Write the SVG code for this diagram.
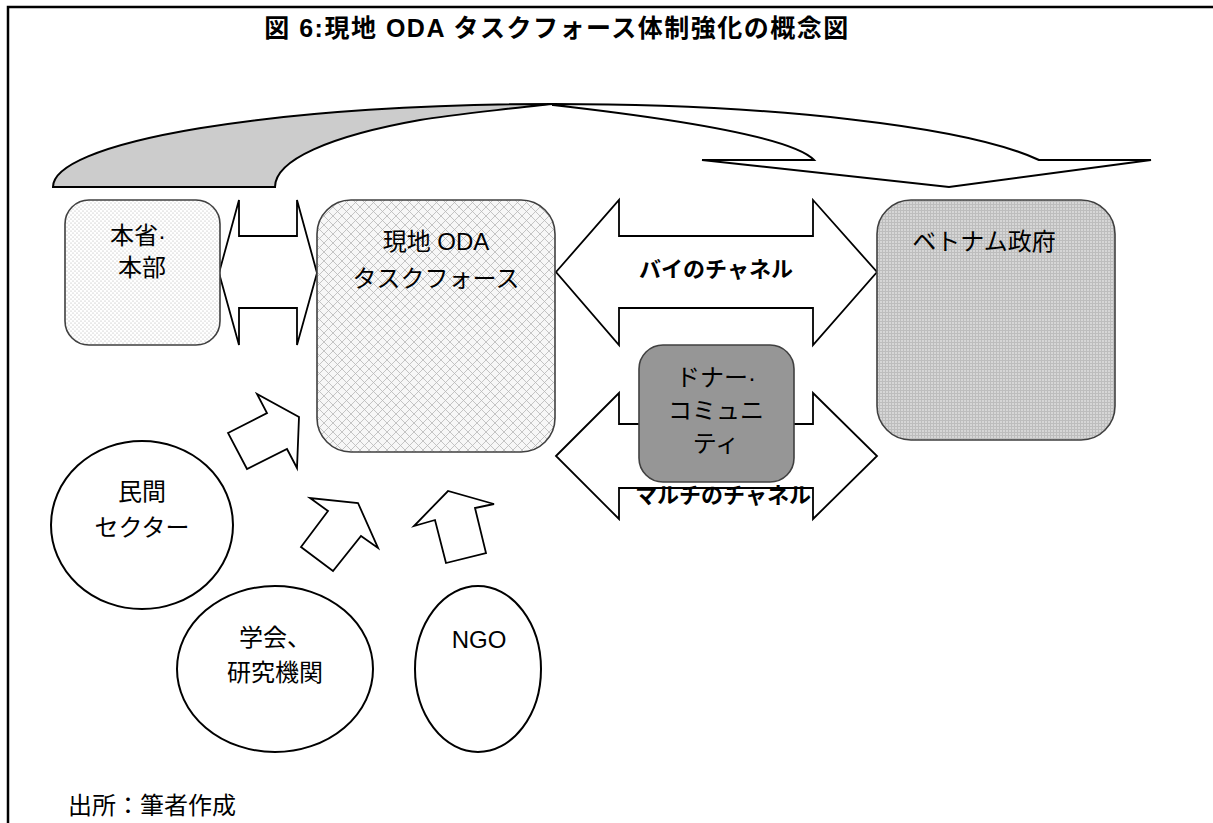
<svg xmlns="http://www.w3.org/2000/svg" width="1213" height="823" viewBox="0 0 1213 823">
<style>
.t{font-family:"Liberation Sans","Noto Sans CJK JP",sans-serif;font-size:24px;fill:#000;text-anchor:middle}
.b{font-family:"Liberation Sans","Noto Sans CJK JP",sans-serif;font-size:22px;font-weight:bold;fill:#000;text-anchor:middle}
.box{stroke:#404040;stroke-width:1.6}
.ell{fill:#fff;stroke:#000;stroke-width:2}
.arr{fill:#fff;stroke:#000;stroke-width:1.8;stroke-linejoin:miter}
</style>
<defs>
<pattern id="dots" width="4" height="4" patternUnits="userSpaceOnUse">
<rect width="4" height="4" fill="#fff"/>
<circle cx="1" cy="1" r="0.55" fill="#a8a8a8"/>
<circle cx="3" cy="3" r="0.55" fill="#a8a8a8"/>
</pattern>
<pattern id="hatch" width="9" height="9" patternUnits="userSpaceOnUse">
<rect width="9" height="9" fill="#f7f7f7"/>
<path d="M0,0 L9,9 M9,0 L0,9" stroke="#b8b8b8" stroke-width="0.8"/>
</pattern>
<pattern id="grid" width="3" height="3" patternUnits="userSpaceOnUse">
<rect width="3" height="3" fill="#d6d6d6"/>
<path d="M0,0.5 H3 M0.5,0 V3" stroke="#bdbdbd" stroke-width="1"/>
</pattern>
</defs>
<rect width="1213" height="823" fill="#fff"/>
<path d="M8,823 V7 H1213" fill="none" stroke="#000" stroke-width="2.5"/>
<text x="557" y="37" class="b" style="font-size:25px;letter-spacing:1.5px">図 6:現地 ODA タスクフォース体制強化の概念図</text>

<g id="connectors">
<path d="M53,187 A500,83 0 0 1 553,104 C 550,104 450,115 420,120 C 330,136 275,160 275,187 Z" fill="#cccccc" stroke="#000" stroke-width="2"/>
<path d="M553,104 A514,83 0 0 1 1039,160 L1151,160 L949,187 L702,160 L814,160 C790,135 650,116 553,105 Z" fill="#fff" stroke="#000" stroke-width="2"/>
<polygon class="arr" points="219,273 239,200 239,236 297,236 297,200 317,273 297,345 297,308 239,308 239,345"/>
<polygon class="arr" points="556,272 619,200 619,236 813,236 813,200 877,272 813,345 813,308 619,308 619,345"/>
<polygon class="arr" points="556,456 619,393 619,424 813,424 813,393 877,456 813,519 813,488 619,488 619,519"/>
<polygon class="arr" points="228,433 267,413 257,394 299,417 297,468 287,449 247,469"/>
<polygon class="arr" points="301,547 328,511 310,498 358,503 378,548 361,536 333,571"/>
<polygon class="arr" points="446,563 435,520 414,526 448,491 494,504 475,508 486,553"/>
<text x="716" y="277" class="b">バイのチャネル</text>
</g>

<g id="honsho">
<rect class="box" x="65" y="200" width="155" height="145" rx="24" fill="url(#dots)"/>
<text x="138" y="244" class="t">本省·</text>
<text x="142" y="276" class="t">本部</text>
</g>
<g id="taskforce">
<rect class="box" x="317" y="200" width="238" height="252" rx="34" fill="url(#hatch)"/>
<text x="436" y="250" class="t">現地 ODA</text>
<text x="436" y="287" class="t">タスクフォース</text>
</g>
<g id="vietnam">
<rect class="box" x="877" y="200" width="238" height="240" rx="34" fill="url(#grid)"/>
<text x="984" y="250" class="t">ベトナム政府</text>
</g>
<g id="donor">
<rect class="box" x="639" y="345" width="155" height="137" rx="24" fill="#969696"/>
<text x="716" y="386" class="t">ドナー·</text>
<text x="716" y="419" class="t">コミュニ</text>
<text x="716" y="452" class="t">ティ</text>
</g>
<text x="723" y="503" class="b">マルチのチャネル</text>
<g id="private">
<ellipse class="ell" cx="142" cy="525" rx="91" ry="84"/>
<text x="142" y="500" class="t">民間</text>
<text x="142" y="536" class="t">セクター</text>
</g>
<g id="academia">
<ellipse class="ell" cx="275" cy="669" rx="98" ry="83"/>
<text x="275" y="646" class="t">学会、</text>
<text x="275" y="681" class="t">研究機関</text>
</g>
<g id="ngo">
<ellipse class="ell" cx="478" cy="669" rx="63" ry="83"/>
<text x="479" y="648" class="t" style="font-size:24px">NGO</text>
</g>
<text x="68" y="814" class="t" style="text-anchor:start">出所：筆者作成</text>
</svg>
